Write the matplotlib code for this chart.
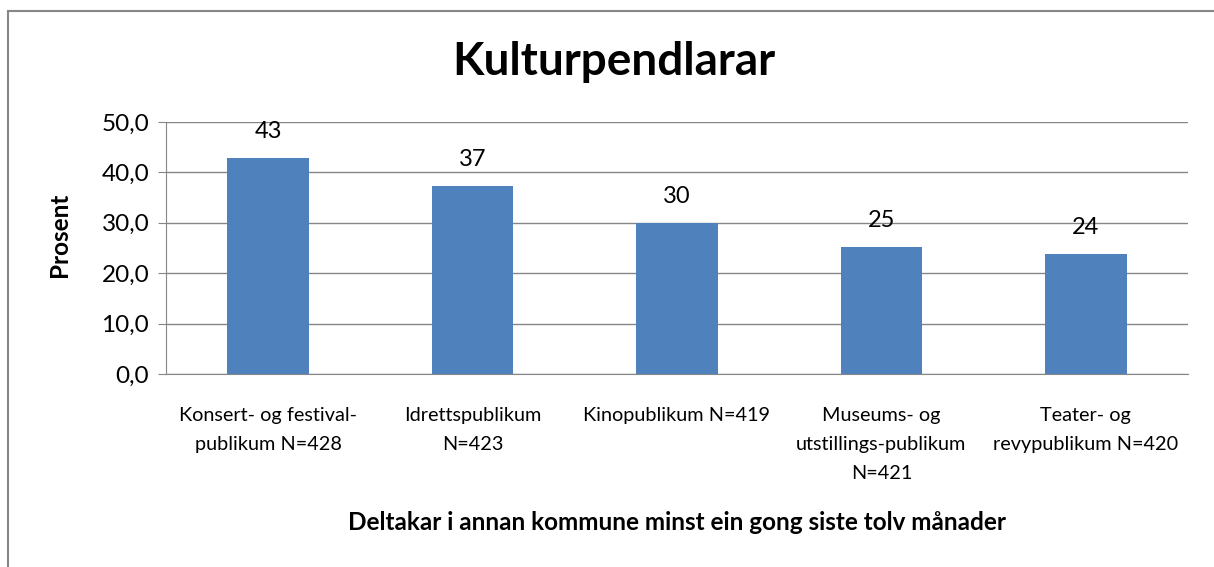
import matplotlib.pyplot as plt
from matplotlib.patches import Rectangle

categories = ["Konsert- og festival-\npublikum N=428",
              "Idrettspublikum\nN=423",
              "Kinopublikum N=419",
              "Museums- og\nutstillings-publikum\nN=421",
              "Teater- og\nrevypublikum N=420"]
values = [42.9, 37.3, 30.0, 25.2, 23.8]
value_labels = ["43", "37", "30", "25", "24"]
yticks = [0, 10, 20, 30, 40, 50]

plt.rcParams['font.family'] = ['Lato', 'DejaVu Sans']

fig = plt.figure(figsize=(12.14, 5.67), dpi=100)
ax = fig.add_axes([0.1367, 0.3404, 0.8419, 0.4444])

x = range(len(categories))
ax.bar(x, values, width=0.4, color='#4F81BD', zorder=3)
for i, v in enumerate(values):
    ax.annotate(value_labels[i], (i, v), xytext=(0, 19), textcoords='offset points',
                ha='center', va='center', fontsize=17)

ax.set_xlim(-0.5, len(categories) - 0.5)
ax.set_ylim(0, 50)
ax.set_yticks(yticks)
ax.set_yticklabels([f"{t:.1f}".replace('.', ',') for t in yticks], fontsize=17.5)
ax.set_xticks(list(x))
ax.set_xticklabels(categories, fontsize=14.3, linespacing=1.85)
ax.tick_params(axis='x', length=0, pad=24)
ax.tick_params(axis='y', length=6, color='#868686', pad=6)
ax.grid(axis='y', color='#868686', linewidth=1, zorder=0)
for s in ['top', 'right']:
    ax.spines[s].set_visible(False)
for s in ['left', 'bottom']:
    ax.spines[s].set_color('#868686')

fig.text(0.0494, 0.5856, "Prosent", rotation=90, ha='center', va='center',
         fontsize=17.5, fontweight='bold')
fig.text(0.506, 0.891, "Kulturpendlarar", ha='center', va='center', fontsize=33, fontweight='bold')
fig.text(0.558, 0.078, "Deltakar i annan kommune minst ein gong siste tolv månader",
         ha='center', va='center', fontsize=17.5, fontweight='bold')

fig.patches.append(Rectangle((0.0066, -0.02), 1.1, 1.0006, transform=fig.transFigure,
                             fill=False, edgecolor='#868686', linewidth=1.5))

fig.savefig("out.png", dpi=100)
